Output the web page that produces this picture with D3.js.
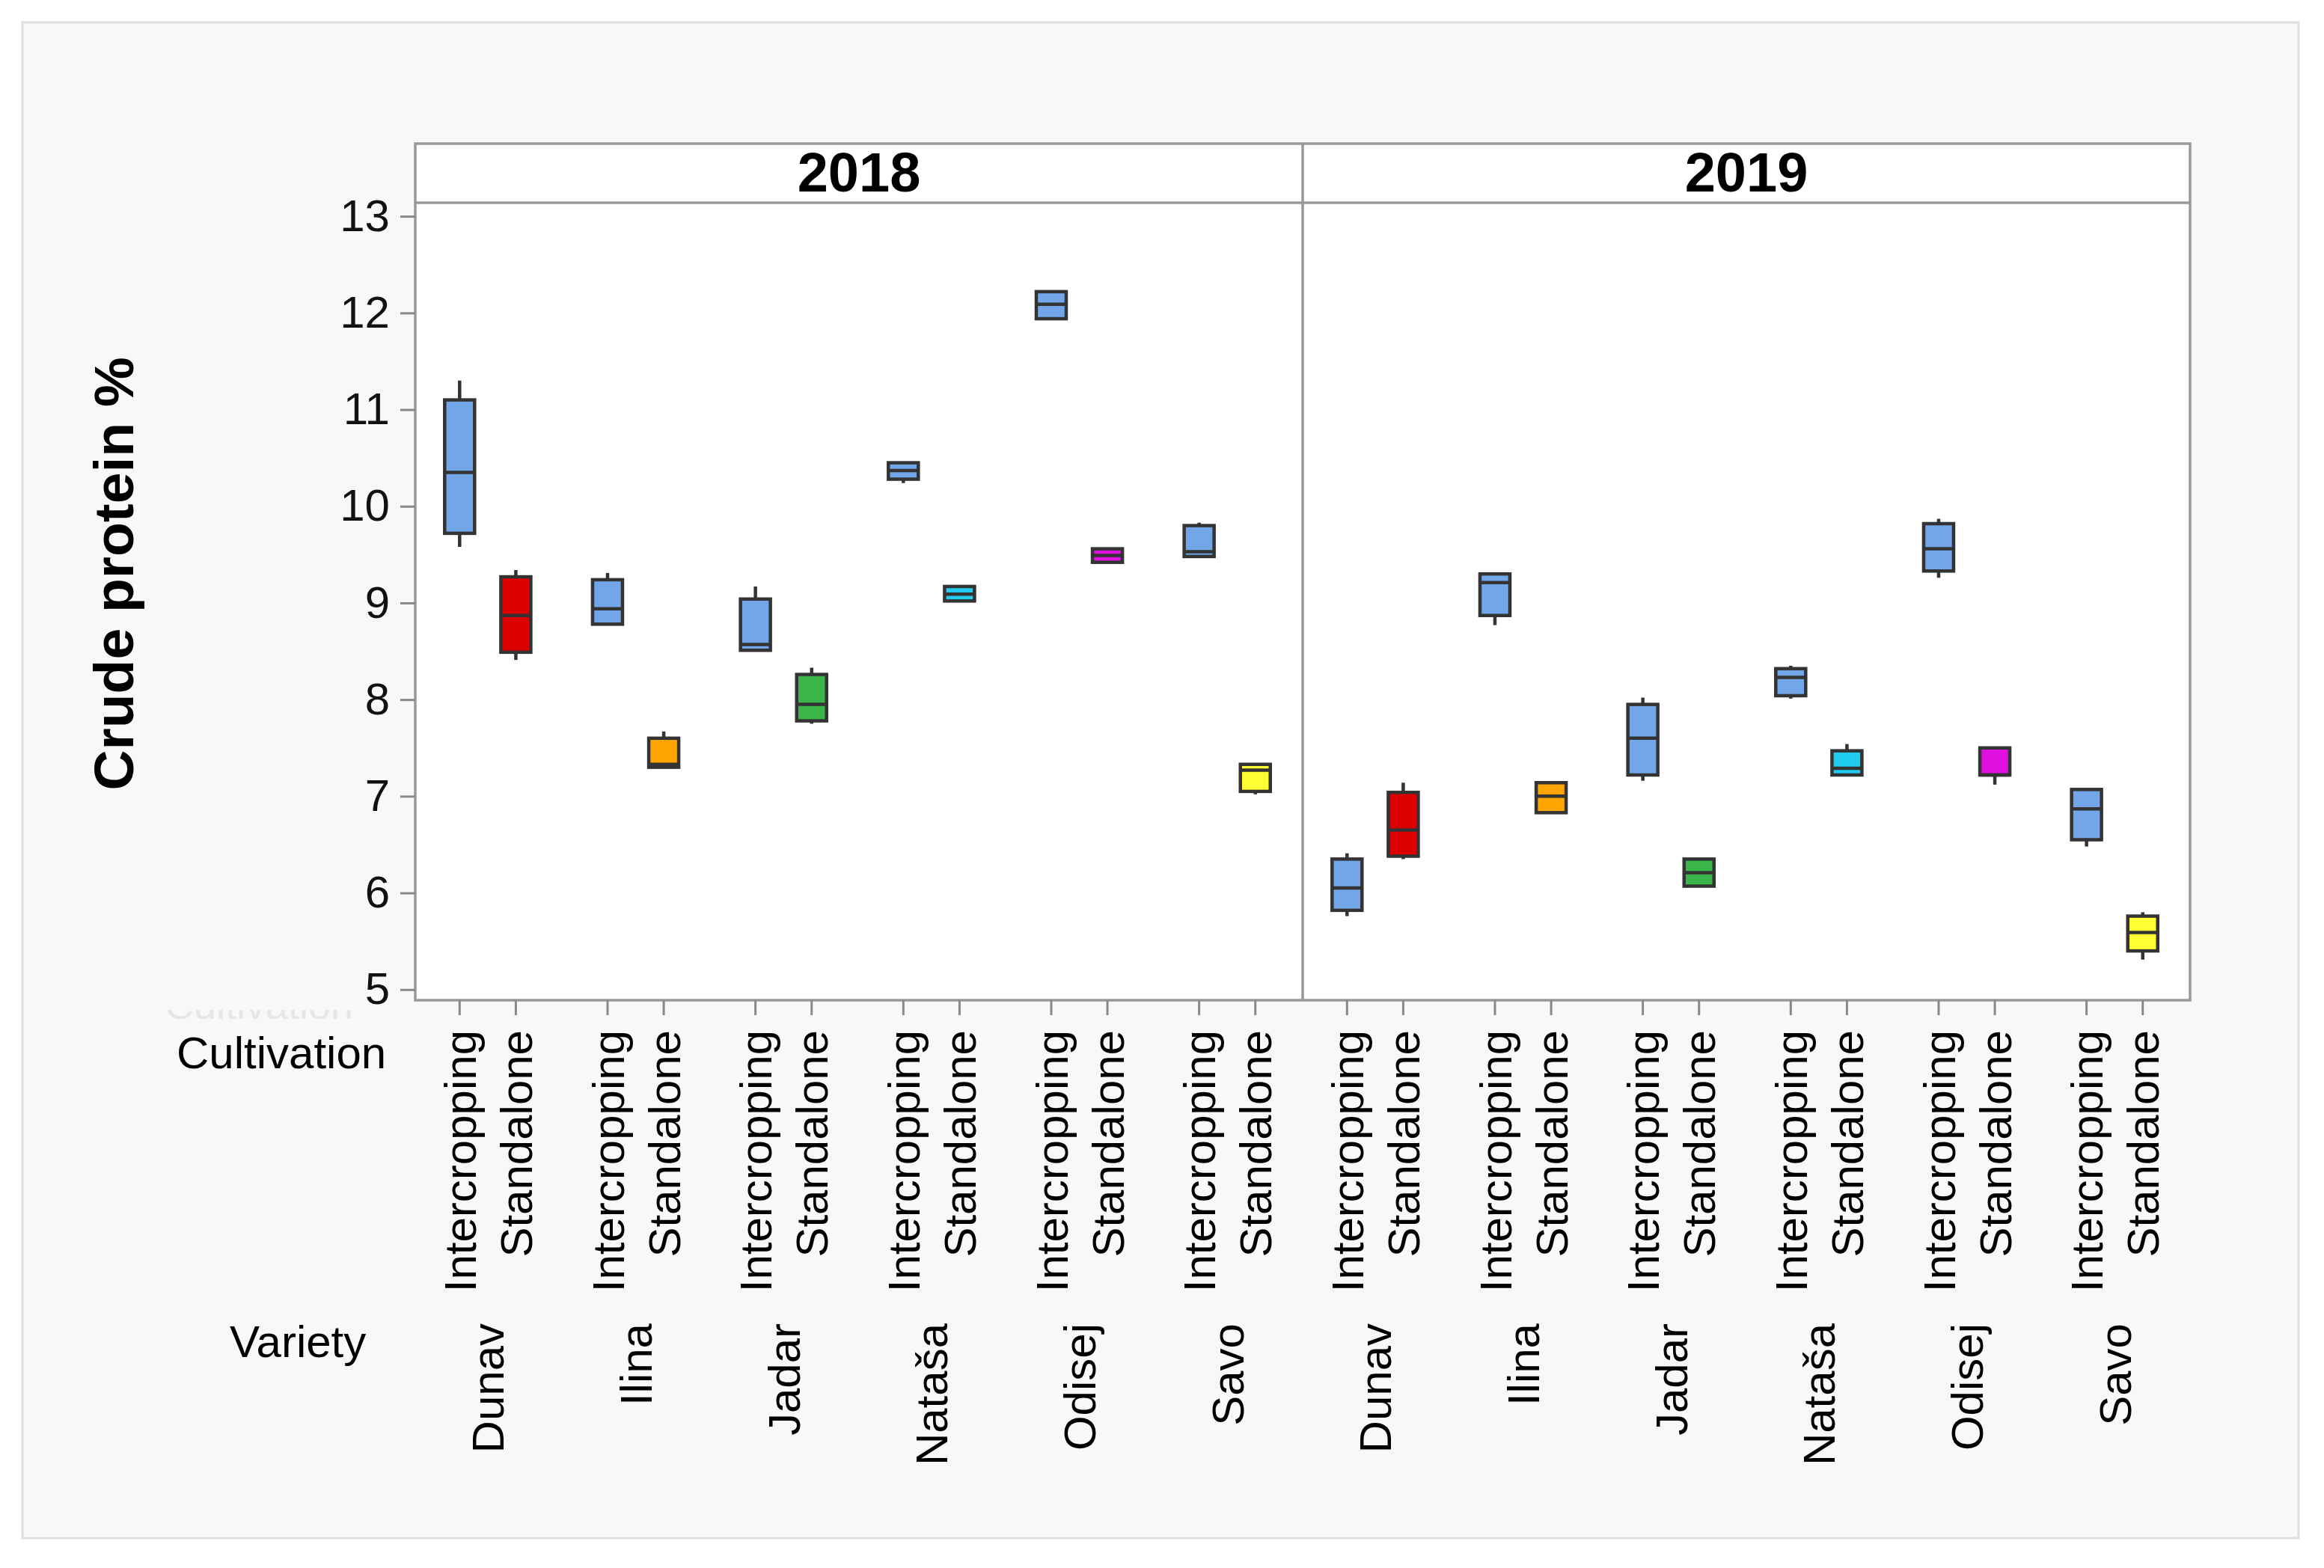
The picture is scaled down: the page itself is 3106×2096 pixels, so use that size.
<!DOCTYPE html>
<html>
<head>
<meta charset="utf-8">
<script src="https://cdn.jsdelivr.net/npm/d3@7"></script>
<style>
  body { margin: 0; background: #fff; }
  text { font-family: "Liberation Sans", Arial, sans-serif; }
</style>
</head>
<body>
<div id="chart"></div>
<script>
  const W = 3106, H = 2096;

  const years = ["2018", "2019"];
  const varieties = ["Dunav", "Ilina", "Jadar", "Nataša", "Odisej", "Savo"];
  const cultivations = ["Intercropping", "Standalone"];

  // one entry per box: year -> variety -> cultivation
  const whiskerLo = [9.58, 8.41, 8.78, 7.30, 8.51, 7.75, 10.24, 9.02, 11.94, 9.42, 9.48, 7.02,
                     5.76, 6.35, 8.77, 6.83, 7.16, 6.07, 8.01, 7.22, 9.26, 7.12, 6.48, 5.31];
  const q1        = [9.72, 8.49, 8.78, 7.30, 8.51, 7.78, 10.28, 9.02, 11.94, 9.42, 9.48, 7.05,
                     5.82, 6.38, 8.87, 6.83, 7.22, 6.07, 8.04, 7.22, 9.33, 7.22, 6.55, 5.40];
  const median    = [10.35, 8.87, 8.94, 7.33, 8.57, 7.95, 10.37, 9.09, 12.09, 9.49, 9.53, 7.27,
                     6.05, 6.65, 9.21, 7.00, 7.60, 6.21, 8.23, 7.29, 9.56, 7.22, 6.87, 5.59];
  const q3        = [11.10, 9.27, 9.24, 7.60, 9.04, 8.26, 10.45, 9.17, 12.22, 9.56, 9.80, 7.33,
                     6.35, 7.04, 9.30, 7.14, 7.95, 6.35, 8.32, 7.47, 9.82, 7.50, 7.07, 5.76];
  const whiskerHi = [11.30, 9.34, 9.31, 7.67, 9.17, 8.33, 10.45, 9.17, 12.22, 9.56, 9.83, 7.33,
                     6.41, 7.14, 9.30, 7.14, 8.02, 6.35, 8.35, 7.54, 9.87, 7.50, 7.07, 5.80];

  const yTicks = [5, 6, 7, 8, 9, 10, 11, 12, 13];

  const interColor = "#72a6e8";
  const standColors = ["#dd0000", "#ffa500", "#39b54a", "#22ccee", "#e010e0", "#ffff33"];

  const plotL = 555, plotR = 2927, stripTop = 192, plotTop = 271, plotB = 1337;
  const boxW = 40;

  var svg = d3.select("#chart")
    .append("svg")
    .attr("width", W)
    .attr("height", H);

  // outer light frame
  svg.append("rect")
    .attr("x", 30).attr("y", 30)
    .attr("width", 3042).attr("height", 2026)
    .attr("fill", "#f8f8f8")
    .attr("stroke", "#dedede")
    .attr("stroke-width", 3);

  const y = d3.scaleLinear().domain([4.89, 13.14]).range([plotB, plotTop]);
  const xYear = d3.scaleBand().domain(years).range([plotL, plotR]);
  const xVar = d3.scaleBand().domain(varieties).range([0, xYear.bandwidth()]);
  const xCult = d3.scalePoint().domain(cultivations)
    .range([xVar.bandwidth() * 0.3, xVar.bandwidth() * 0.68]);

  function xPos(yr, v, c) { return xYear(yr) + xVar(v) + xCult(c); }

  // faint ghost label, only its lower edge shows
  svg.append("clipPath").attr("id", "ghostClip")
    .append("rect").attr("x", 200).attr("y", 1350).attr("width", 320).attr("height", 12);
  svg.append("text")
    .attr("x", 220).attr("y", 1362)
    .attr("font-size", 54)
    .attr("fill", "#e6e6e6")
    .attr("clip-path", "url(#ghostClip)")
    .text("Cultivation");

  // panels
  years.forEach(yr => {
    svg.append("rect")
      .attr("x", xYear(yr)).attr("y", plotTop)
      .attr("width", xYear.bandwidth()).attr("height", plotB - plotTop)
      .attr("fill", "#fff");
    svg.append("rect")
      .attr("x", xYear(yr)).attr("y", stripTop)
      .attr("width", xYear.bandwidth()).attr("height", plotTop - stripTop)
      .attr("fill", "#fff");
    svg.append("text")
      .attr("x", xYear(yr) + xYear.bandwidth() / 2)
      .attr("y", 256)
      .attr("text-anchor", "middle")
      .attr("font-size", 74)
      .attr("font-weight", "bold")
      .attr("fill", "#000")
      .text(yr);
  });

  // boxes
  var boxes = [];
  years.forEach(yr => varieties.forEach((v, vi) => cultivations.forEach(c => {
    var k = boxes.length;
    boxes.push({
      x: xPos(yr, v, c),
      lo: whiskerLo[k], q1: q1[k], med: median[k], q3: q3[k], hi: whiskerHi[k],
      fill: c === "Intercropping" ? interColor : standColors[vi]
    });
  })));

  var g = svg.append("g");
  boxes.forEach(b => {
    g.append("line")
      .attr("x1", b.x).attr("x2", b.x)
      .attr("y1", y(b.hi)).attr("y2", y(b.lo))
      .attr("stroke", "#333").attr("stroke-width", 4.5);
    g.append("rect")
      .attr("x", b.x - boxW / 2).attr("y", y(b.q3))
      .attr("width", boxW).attr("height", Math.max(y(b.q1) - y(b.q3), 1))
      .attr("fill", b.fill)
      .attr("stroke", "#333").attr("stroke-width", 4.5);
    g.append("line")
      .attr("x1", b.x - boxW / 2).attr("x2", b.x + boxW / 2)
      .attr("y1", y(b.med)).attr("y2", y(b.med))
      .attr("stroke", "#333").attr("stroke-width", 4.5);
  });

  // frames on top
  svg.append("rect")
    .attr("x", plotL).attr("y", stripTop)
    .attr("width", plotR - plotL).attr("height", plotB - stripTop)
    .attr("fill", "none").attr("stroke", "#999").attr("stroke-width", 3.5);
  svg.append("line")
    .attr("x1", plotL).attr("x2", plotR)
    .attr("y1", plotTop).attr("y2", plotTop)
    .attr("stroke", "#999").attr("stroke-width", 3.5);
  svg.append("line")
    .attr("x1", xYear("2019")).attr("x2", xYear("2019"))
    .attr("y1", stripTop).attr("y2", plotB)
    .attr("stroke", "#999").attr("stroke-width", 3.5);

  // y axis
  var yAxis = svg.append("g")
    .attr("transform", `translate(${plotL},0)`)
    .call(d3.axisLeft(y).tickValues(yTicks).tickSize(20).tickPadding(14));
  yAxis.select(".domain").remove();
  yAxis.selectAll("line").attr("stroke", "#888").attr("stroke-width", 3);
  yAxis.selectAll("text")
    .attr("font-size", 60)
    .attr("fill", "#111")
    .attr("font-family", "Liberation Sans, Arial, sans-serif");

  svg.append("text")
    .attr("transform", "translate(178,767) rotate(-90)")
    .attr("text-anchor", "middle")
    .attr("font-size", 75)
    .attr("font-weight", "bold")
    .attr("fill", "#000")
    .text("Crude protein %");

  // x ticks and labels
  years.forEach(yr => {
    varieties.forEach(v => {
      cultivations.forEach(c => {
        var xp = xPos(yr, v, c);
        svg.append("line")
          .attr("x1", xp).attr("x2", xp)
          .attr("y1", plotB).attr("y2", plotB + 20)
          .attr("stroke", "#888").attr("stroke-width", 3);
        svg.append("text")
          .attr("transform", `translate(${xp},1377) rotate(-90)`)
          .attr("text-anchor", "end")
          .attr("dy", "0.36em")
          .attr("font-size", 60)
          .attr("fill", "#000")
          .text(c);
      });
      var mid = (xPos(yr, v, cultivations[0]) + xPos(yr, v, cultivations[1])) / 2;
      svg.append("text")
        .attr("transform", `translate(${mid},1769) rotate(-90)`)
        .attr("text-anchor", "end")
        .attr("dy", "0.36em")
        .attr("font-size", 60)
        .attr("fill", "#000")
        .text(v);
    });
  });

  svg.append("text")
    .attr("x", 236).attr("y", 1428)
    .attr("font-size", 60).attr("fill", "#000")
    .text("Cultivation");
  svg.append("text")
    .attr("x", 307).attr("y", 1814)
    .attr("font-size", 60).attr("fill", "#000")
    .text("Variety");
</script>
</body>
</html>
